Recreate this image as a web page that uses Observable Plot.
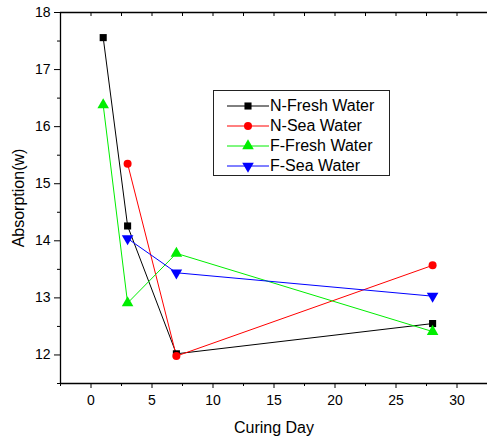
<!DOCTYPE html>
<html>
<head>
<meta charset="utf-8">
<script src="https://cdn.jsdelivr.net/npm/d3@7"></script>
<script src="https://cdn.jsdelivr.net/npm/@observablehq/plot@0.6"></script>
<style>
  body { margin: 0; background: #fff; }
  #wrap { position: relative; width: 487px; height: 440px; font-family: "Liberation Sans", Arial, sans-serif; }
  #legend { position: absolute; left: 213px; top: 90px; width: 177px; height: 86px; border: 1px solid #222; background: transparent; box-sizing: border-box; }
  .row { position: absolute; left: 0; height: 20px; display: flex; align-items: center; font-size: 16px; color: #000; white-space: nowrap; }
  .row svg { margin-left: 13px; margin-right: 1px; display: block; }
</style>
</head>
<body>
<div id="wrap"></div>
<script>
// Data
const seriesNames = ["N-Fresh Water", "N-Sea Water", "F-Fresh Water", "F-Sea Water"];
const seriesColors = ["#000000", "#ff0000", "#00ee00", "#0000ff"];
const seriesSymbols = ["square", "circle", "triangle", "triangle"];
const seriesRotate = [0, 0, 0, 180];

const nFreshDay = [1, 3, 7, 28];
const nFresh = [17.56, 14.26, 12.02, 12.55];
const nSeaDay = [3, 7, 28];
const nSea = [15.35, 11.98, 13.57];
const fFreshDay = [1, 3, 7, 28];
const fFresh = [16.38, 12.91, 13.78, 12.41];
const fSeaDay = [3, 7, 28];
const fSea = [14.04, 13.44, 13.03];

const xTicks = [0, 5, 10, 15, 20, 25, 30];
const xMinor = [-2.5, 2.5, 7.5, 12.5, 17.5, 22.5, 27.5, 32.5];
const yTicks = [12, 13, 14, 15, 16, 17, 18];
const yMinor = [11.5, 12.5, 13.5, 14.5, 15.5, 16.5, 17.5];
const xLabel = "Curing Day";
const yLabel = "Absorption(w)";

const days = [nFreshDay, nSeaDay, fFreshDay, fSeaDay];
const vals = [nFresh, nSea, fFresh, fSea];
const rows = [];
seriesNames.forEach((s, i) => days[i].forEach((d, j) => rows.push({series: s, idx: i, day: d, value: vals[i][j]})));

const lineMarks = seriesNames.map((s, i) =>
  Plot.line(rows.filter(r => r.idx === i), {x: "day", y: "value", stroke: seriesColors[i], strokeWidth: 1}));
const dotMarks = seriesNames.map((s, i) =>
  Plot.dot(rows.filter(r => r.idx === i), {x: "day", y: "value", fill: seriesColors[i], stroke: "none",
    symbol: seriesSymbols[i], r: i >= 2 ? 4.3 : 4, rotate: seriesRotate[i]}));

const font = "Liberation Sans, Arial, sans-serif";
const fmt = d => String(d);
const chart = Plot.plot({
  width: 487,
  height: 440,
  marginLeft: 60,
  marginRight: 0,
  marginTop: 12,
  marginBottom: 57,
  style: {fontFamily: font, fontSize: "14px", color: "#000", background: "transparent", overflow: "visible"},
  x: {domain: [-2.5, 32.5]},
  y: {domain: [11.5, 18]},
  marks: [
    Plot.axisX({ticks: xTicks, tickSize: 5, tickPadding: 7, tickFormat: fmt, label: null, fontSize: 14}),
    Plot.axisX({ticks: xMinor, tickSize: 3, tickFormat: () => "", label: null}),
    Plot.axisY({ticks: yTicks, tickSize: 6, tickPadding: 4, tickFormat: fmt, label: null, fontSize: 14}),
    Plot.axisY({ticks: yMinor, tickSize: 3, tickFormat: () => "", label: null}),
    Plot.axisX({anchor: "top", ticks: xTicks.concat(xMinor), tickSize: -3, tickFormat: () => "", label: null}),
    Plot.ruleX([-2.5], {stroke: "#000", strokeWidth: 1.3}),
    Plot.ruleY([11.5], {stroke: "#000", strokeWidth: 1.3}),
    Plot.ruleY([18], {stroke: "#000", strokeWidth: 1.3}),
    ...lineMarks,
    ...dotMarks,
    Plot.text([xLabel], {frameAnchor: "bottom", dy: 44, lineAnchor: "middle", textAnchor: "middle", fontSize: 16, fill: "#000"}),
    Plot.text([yLabel], {frameAnchor: "left", dx: -42, rotate: -90, lineAnchor: "middle", textAnchor: "middle", fontSize: 16, fill: "#000"})
  ]
});
const wrap = document.getElementById("wrap");
wrap.appendChild(chart);

// Legend
const legend = document.createElement("div");
legend.id = "legend";
const sym = {square: d3.symbolSquare, circle: d3.symbolCircle, triangle: d3.symbolTriangle};
seriesNames.forEach((name, i) => {
  const row = document.createElement("div");
  row.className = "row";
  row.style.top = (5 + i * 20) + "px";
  const r = i >= 2 ? 4.3 : 4;
  const path = d3.symbol(sym[seriesSymbols[i]], Math.PI * r * r)();
  row.innerHTML = `<svg width="42" height="20"><line x1="0" x2="42" y1="10" y2="10" stroke="${seriesColors[i]}" stroke-width="1"/>` +
    `<path d="${path}" transform="translate(21,10) rotate(${seriesRotate[i]})" fill="${seriesColors[i]}"/></svg><span>${name}</span>`;
  legend.appendChild(row);
});
wrap.appendChild(legend);
</script>
</body>
</html>
